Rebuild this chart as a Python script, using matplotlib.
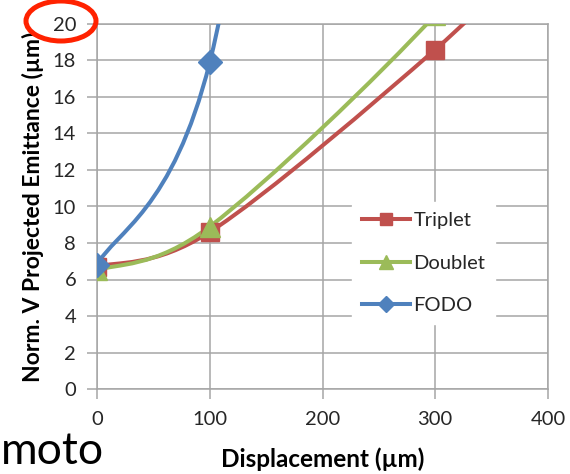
import matplotlib
matplotlib.use('Agg')
import matplotlib.pyplot as plt
from matplotlib.path import Path
from matplotlib.patches import PathPatch, Ellipse
from matplotlib.lines import Line2D

plt.rcParams['font.family'] = ['Lato', 'DejaVu Sans']

# displacement (um) and normalized vertical projected emittance (um)
triplet_x = [0, 100, 300, 400]
triplet_y = [6.7, 8.6, 18.6, 24.8]
doublet_x = [0, 100, 300, 400]
doublet_y = [6.5, 8.9, 20.5, 29.0]
fodo_x = [0, 100, 200]
fodo_y = [6.8, 17.9, 56.0]

RED = '#c0504d'
GREEN = '#9bbb59'
BLUE = '#4f81bd'
GRID = '#a6a6a6'


def smooth_path(xs, ys):
    # Excel-like smoothed line: cubic Bezier segments through every point
    pts = list(zip(xs, ys))
    n = len(pts)
    verts = [pts[0]]
    codes = [Path.MOVETO]
    for i in range(n - 1):
        p0 = pts[i - 1] if i > 0 else pts[i]
        p1 = pts[i]
        p2 = pts[i + 1]
        p3 = pts[i + 2] if i + 2 < n else pts[i + 1]
        c1 = (p1[0] + (p2[0] - p0[0]) / 6, p1[1] + (p2[1] - p0[1]) / 6)
        c2 = (p2[0] - (p3[0] - p1[0]) / 6, p2[1] - (p3[1] - p1[1]) / 6)
        verts += [c1, c2, p2]
        codes += [Path.CURVE4] * 3
    return Path(verts, codes)


fig = plt.figure(figsize=(5.7, 4.74), dpi=100)
ax = fig.add_axes([97 / 570, 85 / 474, 451 / 570, 365 / 474])

series = [
    ('Triplet', triplet_x, triplet_y, RED, 's', 13, 9, [0, 1, 2]),
    ('Doublet', doublet_x, doublet_y, GREEN, '^', 14, 10, [0, 1, 2]),
    ('FODO', fodo_x, fodo_y, BLUE, 'D', 12, 8, [0, 1]),
]

handles = []
for name, xs, ys, col, mk, ms, lms, show in series:
    ax.add_patch(PathPatch(smooth_path(xs, ys), fill=False, edgecolor=col,
                           lw=2.9, capstyle='round', zorder=3))
    ax.plot([xs[i] for i in show], [ys[i] for i in show], linestyle='none',
            marker=mk, ms=ms, color=col, zorder=4)
    handles.append(Line2D([], [], color=col, lw=2.9, marker=mk, ms=lms,
                          label=name))

ax.set_xlim(0, 400)
ax.set_ylim(0, 20)
ax.set_xticks(range(0, 401, 100))
ax.set_yticks(range(0, 21, 2))
ax.grid(True, color=GRID, lw=1.1)
ax.set_axisbelow(True)
for s in ax.spines.values():
    s.set_color(GRID)
    s.set_linewidth(1.1)
ax.tick_params(axis='both', direction='out', length=7, width=1.1, color=GRID,
               labelsize=14.5, labelcolor='#262626')
ax.tick_params(axis='y', pad=8)
ax.tick_params(axis='x', pad=9)

ax.set_xlabel('Displacement (µm)', fontsize=17.5, fontweight='bold',
              labelpad=14)
ax.set_ylabel('Norm. V Projected Emittance (µm)', fontsize=16.5,
              fontweight='bold', labelpad=6)

leg = ax.legend(handles=handles, loc='center left',
                bbox_to_anchor=(251 / 451, 0.345), frameon=True, fontsize=14.5,
                handlelength=2.4, labelspacing=1.25, handletextpad=0.15,
                borderpad=0.5, borderaxespad=0.2)
leg.get_frame().set_edgecolor('white')
leg.get_frame().set_facecolor('white')
leg.get_frame().set_alpha(1.0)
for t in leg.get_texts():
    t.set_color('#262626')

# annotation circle drawn on the slide
fig.add_artist(Ellipse((61 / 570, 1 - 21 / 474), 70 / 570, 40 / 474,
                       transform=fig.transFigure, fill=False,
                       edgecolor='#ff2200', lw=3.6, clip_on=False))

# leftover slide text next to the chart
fig.text(0.002, 0.004, 'moto', fontsize=32, color='black', ha='left',
         va='bottom')

fig.savefig('out.png', dpi=100)
